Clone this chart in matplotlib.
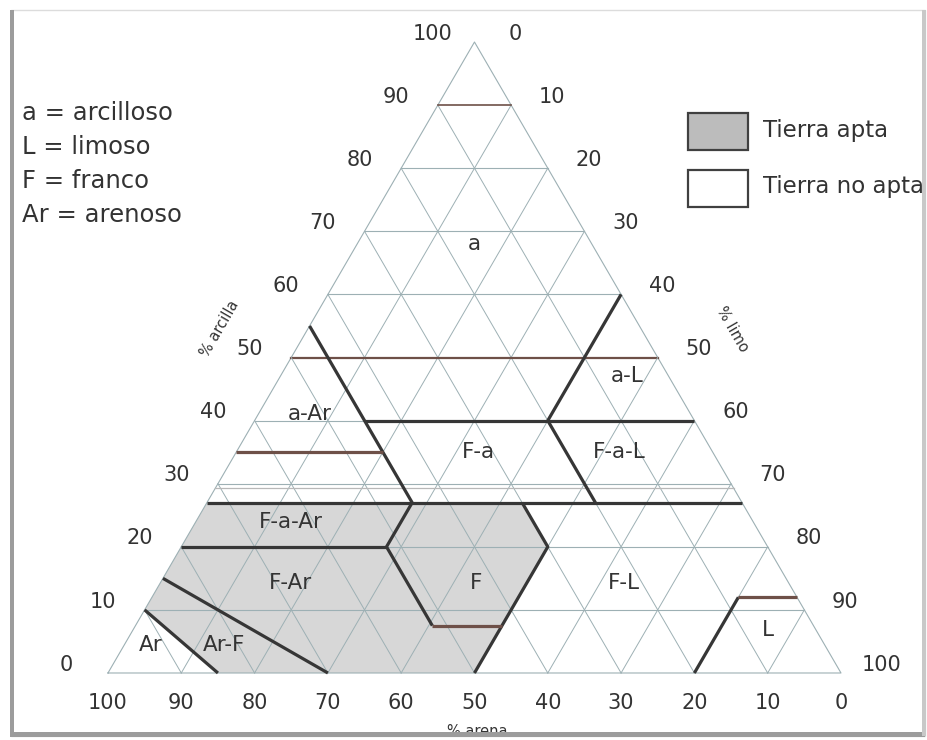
import numpy as np
import matplotlib
matplotlib.use("Agg")
import matplotlib.pyplot as plt
from matplotlib.patches import Polygon, Rectangle

# ---- data (percent values: clay, sand; silt = 100 - clay - sand) ----
grid_levels = [10, 20, 30, 40, 50, 60, 70, 80, 90]
tick_values = [0, 10, 20, 30, 40, 50, 60, 70, 80, 90, 100]

# textural class boundaries, each a list of (clay, sand) points
boundaries_dark = [
    [(55, 45), (27, 45)],                 # sand 45 line
    [(40, 45), (40, 0)],                  # clay 40 to silt side
    [(27, 73), (27, 0)],                  # clay 27 across
    [(20, 80), (20, 52)],                 # clay 20 to loam
    [(60, 0), (40, 20)],                  # silt 40 line
    [(40, 20), (27, 20)],                 # sand 20 line
    [(27, 45), (20, 52), (7.5, 52)],      # loam left side
    [(27, 30), (20, 30), (0, 50)],        # loam right side
    [(10, 90), (0, 85)],                  # sand
    [(15, 85), (0, 70)],                  # loamy sand
    [(0, 20), (12, 8)],                   # silt left side
]
boundaries_brown = [
    [(35, 65), (35, 45)],                 # clay 35
    [(7.5, 52), (7.5, 42.5)],             # loam bottom
    [(12, 8), (12, 0)],                   # silt top
]
brown_grid = [50, 90]

# suitable soil area (Tierra apta)
apta_area = [(27, 73), (27, 30), (20, 30), (0, 50), (0, 85), (10, 90)]

region_names = ["a", "a-L", "a-Ar", "F-a", "F-a-L", "F-a-Ar", "F-Ar", "F", "F-L", "L", "Ar", "Ar-F"]
region_clay = [68, 47, 41, 35, 35, 24, 14.3, 14.3, 14.3, 6.8, 4.4, 4.4]
region_sand = [16, 5.7, 52, 32, 12.7, 63, 68, 42.7, 22.5, 6.6, 92, 82]

key_lines = ["a = arcilloso", "L = limoso", "F = franco", "Ar = arenoso"]
legend_labels = ["Tierra apta", "Tierra no apta"]


def tern(clay, sand):
    clay = np.asarray(clay, float)
    sand = np.asarray(sand, float)
    silt = 100 - clay - sand
    return silt + clay / 2, clay


fig = plt.figure(figsize=(9.28, 7.4), dpi=100)
fig.patch.set_facecolor("white")
ax = fig.add_axes([0, 0, 1, 1])
ax.set_xlim(-14.73, 111.87)
ax.set_ylim(-10.62, 106.66)
ax.axis("off")

grid_c = "#9db0b4"
dark = "#363636"
brown = "#6e5048"
txt = "#333333"

# shaded area
px, py = tern(*zip(*apta_area))
ax.add_patch(Polygon(np.column_stack([px, py]), closed=True, facecolor="#d7d7d7",
                     edgecolor="none", zorder=1))

# triangle outline
ox, oy = tern([0, 0, 100, 0], [100, 0, 0, 100])
ax.plot(ox, oy, color=grid_c, lw=0.8, zorder=2)

# grid lines
for v in grid_levels:
    # constant clay
    x, y = tern([v, v], [100 - v, 0])
    col = brown if v in brown_grid else grid_c
    lw = 1.6 if v == 50 else (1.2 if v in brown_grid else 0.8)
    ax.plot(x, y, color=col, lw=lw, zorder=2)
    # constant sand
    x, y = tern([0, 100 - v], [v, v])
    ax.plot(x, y, color=grid_c, lw=0.7, zorder=2)
    # constant silt
    x, y = tern([0, 100 - v], [100 - v, 0])
    ax.plot(x, y, color=grid_c, lw=0.7, zorder=2)

# doubled line near clay 30
x, y = tern([29.3, 29.3], [70.7, 0])
ax.plot(x, y, color="#b8b8b8", lw=0.9, zorder=2)

for seg in boundaries_dark:
    x, y = tern(*zip(*seg))
    ax.plot(x, y, color=dark, lw=2.3, zorder=4, solid_capstyle="butt")
for seg in boundaries_brown:
    x, y = tern(*zip(*seg))
    ax.plot(x, y, color=brown, lw=2.3, zorder=4, solid_capstyle="butt")

# class labels
for name, c, s in zip(region_names, region_clay, region_sand):
    x, y = tern(c, s)
    ax.text(x, y, name, ha="center", va="center", fontsize=15.5, color=txt, zorder=5)

# axis tick labels
for v in tick_values:
    # clay on left side
    x, y = tern(v, 100 - v)
    ax.annotate(str(v), (x, y), xytext=(-30, 6), textcoords="offset points",
                ha="center", va="center", fontsize=15, color=txt)
    # silt on right side
    x, y = tern(100 - v, 0)
    ax.annotate(str(v), (x, y), xytext=(29.5, 6), textcoords="offset points",
                ha="center", va="center", fontsize=15, color=txt)
    # sand at base
    x, y = tern(0, v)
    ax.annotate(str(v), (x, y), xytext=(0, -21.5), textcoords="offset points",
                ha="center", va="center", fontsize=15, color=txt)

# axis titles
x, y = tern(52, 48)
ax.annotate("% arcilla", (x, y), xytext=(-57, 12), textcoords="offset points",
            ha="center", va="center", rotation=60, fontsize=10.5, color=txt)
x, y = tern(50, 0)
ax.annotate("% limo", (x, y), xytext=(54, 20), textcoords="offset points",
            ha="center", va="center", rotation=-60, fontsize=10.5, color=txt)
x, y = tern(0, 50)
ax.annotate("% arena", (x, y), xytext=(2, -42), textcoords="offset points",
            ha="center", va="center", fontsize=10.5, color=txt)

# abbreviation key
for i, line in enumerate(key_lines):
    fig.text(22 / 928, 1 - (113 + i * 34) / 740, line, ha="left", va="center",
             fontsize=17.5, color=txt)

# legend boxes
fig.patches.append(Rectangle((688 / 928, 1 - 150 / 740), 60 / 928, 37 / 740,
                             transform=fig.transFigure, facecolor="#bcbcbc",
                             edgecolor="#404040", lw=1.6))
fig.patches.append(Rectangle((688 / 928, 1 - 207 / 740), 60 / 928, 37 / 740,
                             transform=fig.transFigure, facecolor="white",
                             edgecolor="#404040", lw=1.6))
fig.text(763 / 928, 1 - 131 / 740, legend_labels[0], ha="left", va="center",
         fontsize=16.5, color=txt)
fig.text(763 / 928, 1 - 187 / 740, legend_labels[1], ha="left", va="center",
         fontsize=16.5, color=txt)

# picture frame
fig.patches.append(Rectangle((11 / 928, 4 / 740), 914 / 928, 726 / 740,
                             transform=fig.transFigure, facecolor="none",
                             edgecolor="#dcdcdc", lw=1.0))
fig.patches.append(Rectangle((10 / 928, 4 / 740), 4 / 928, 726 / 740,
                             transform=fig.transFigure, facecolor="#9c9c9c",
                             edgecolor="none"))
fig.patches.append(Rectangle((10 / 928, 3 / 740), 915 / 928, 5 / 740,
                             transform=fig.transFigure, facecolor="#9c9c9c",
                             edgecolor="none"))
fig.patches.append(Rectangle((922 / 928, 4 / 740), 4 / 928, 726 / 740,
                             transform=fig.transFigure, facecolor="#c8c8c8",
                             edgecolor="none"))

fig.savefig("out.png", dpi=100, facecolor="white")
